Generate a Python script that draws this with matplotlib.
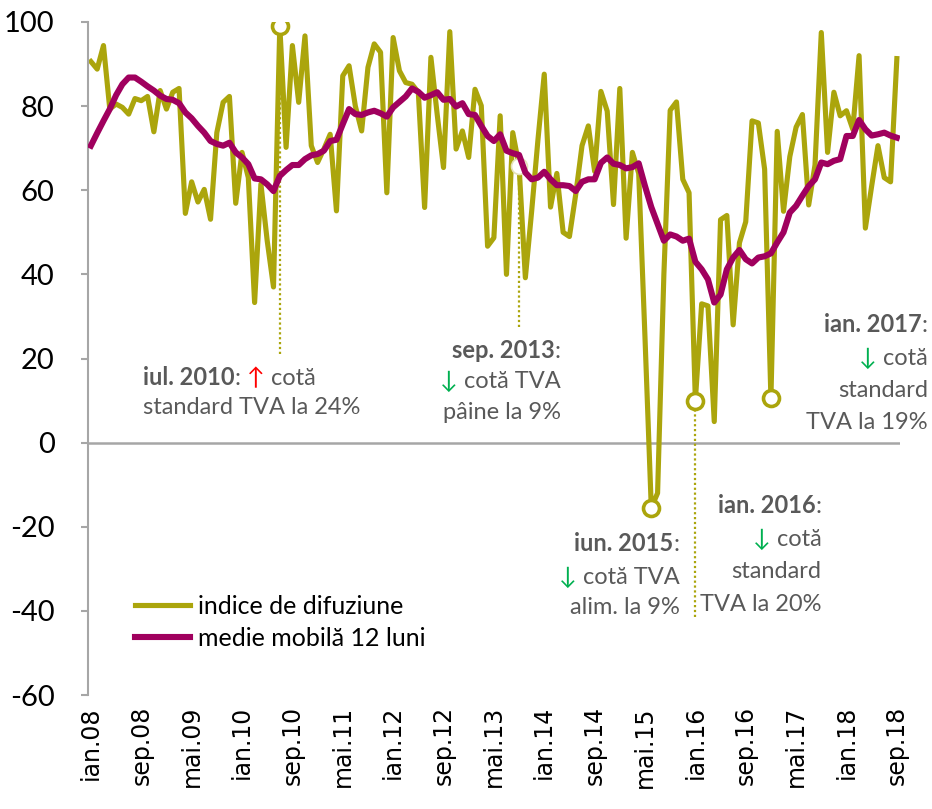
import matplotlib.pyplot as plt
import numpy as np

plt.rcParams['font.family'] = ['Lato', 'DejaVu Sans']
plt.rcParams['axes.unicode_minus'] = False

# indice de difuziune, lunar ian.08 - sep.18
difuziune = [90.6, 88.8, 94.4, 79.3, 80.5, 79.7, 78.1, 81.8, 81.3, 82.3,
             73.9, 83.7, 79.3, 83.3, 84.2, 54.5, 62.0, 57.2, 60.2, 53.1,
             73.7, 80.9, 82.3, 56.9, 69.0, 63.0, 33.3, 61.5, 48.0, 37.0,
             99.0, 70.2, 94.4, 80.9, 96.7, 70.6, 66.6, 69.8, 73.3, 55.1,
             87.2, 89.6, 80.0, 74.1, 89.2, 94.8, 92.8, 59.4, 96.3, 88.4,
             85.6, 85.2, 83.3, 55.9, 91.6, 78.0, 65.4, 97.7, 69.8, 74.1,
             67.8, 84.0, 80.1, 46.7, 48.7, 77.7, 40.0, 73.7, 65.8, 39.2,
             55.0, 72.0, 87.6, 56.0, 64.0, 50.0, 49.0, 59.0, 70.6, 75.3,
             64.5, 83.5, 78.8, 56.6, 84.2, 48.6, 69.0, 64.0, 25.0, -15.5,
             -12.0, 40.0, 79.0, 81.0, 62.6, 59.4, 10.0, 33.0, 32.5, 5.0,
             53.0, 54.0, 28.0, 47.5, 52.5, 76.5, 76.0, 65.0, 10.5, 74.0,
             55.0, 68.0, 75.0, 78.0, 56.5, 66.0, 97.5, 69.0, 83.3, 77.7,
             78.9, 74.5, 92.0, 51.0, 61.0, 70.6, 63.0, 62.0, 91.3]

# medie mobila 12 luni
medie = [70.6, 73.6, 76.5, 79.3, 82.6, 85.2, 86.8, 86.8, 85.8, 84.7,
         83.7, 82.5, 81.7, 81.5, 80.7, 78.5, 77.1, 75.3, 73.7, 71.7,
         71.0, 70.6, 71.3, 69.0, 67.8, 66.2, 62.8, 62.6, 61.4, 59.8,
         63.4, 64.8, 66.0, 66.0, 67.4, 68.3, 68.6, 69.4, 71.7, 72.0,
         75.7, 79.3, 78.1, 77.9, 78.5, 78.9, 78.3, 77.5, 79.7, 81.0,
         82.3, 84.2, 83.4, 82.0, 82.6, 83.3, 81.5, 81.7, 79.9, 80.7,
         78.1, 77.9, 75.3, 72.9, 71.7, 73.3, 69.4, 68.8, 68.4, 64.2,
         62.6, 63.0, 64.4, 62.6, 61.2, 61.2, 61.0, 59.8, 62.0, 62.6,
         62.6, 66.5, 67.8, 66.3, 66.0, 65.2, 65.5, 66.4, 61.0, 56.0,
         52.0, 48.0, 49.5, 49.0, 48.0, 48.5, 43.0, 41.2, 38.8, 33.3,
         35.2, 41.2, 44.0, 45.8, 43.6, 42.6, 44.0, 44.3, 45.0, 47.6,
         50.0, 54.7, 56.3, 58.7, 61.0, 62.6, 66.6, 66.2, 67.0, 67.4,
         72.9, 72.9, 76.7, 74.5, 73.0, 73.3, 73.7, 73.0, 72.5]

tick_labels = ['ian.08', 'sep.08', 'mai.09', 'ian.10', 'sep.10', 'mai.11',
               'ian.12', 'sep.12', 'mai.13', 'ian.14', 'sep.14', 'mai.15',
               'ian.16', 'sep.16', 'mai.17', 'ian.18', 'sep.18']

# luni marcate cu cerc: iul.10, iun.15, ian.16, ian.17
circle_idx = [30, 89, 96, 108]
sep13_idx = 68
# linii punctate: (luna, capat inferior)
dotted = [(30, 21.0), (68, 27.6), (96, -41.4)]

OLIVE = '#ABA50C'
PURPLE = '#A0005E'
GREY = '#595959'
AXIS = '#A6A6A6'
RED = '#FF0000'
GREEN = '#00B050'

x = np.arange(len(difuziune))
dif = np.array(difuziune)

fig = plt.figure(figsize=(9.32, 8.09), dpi=100)
ax = fig.add_axes([88 / 932, 1 - 695 / 809, 812 / 932, 673 / 809])

ax.axhline(0, color=AXIS, lw=1.8, zorder=1)
for i, low in dotted:
    ax.plot([x[i], x[i]], [low, dif[i]], linestyle=(0, (1, 1.2)),
            color=OLIVE, lw=1.6, zorder=1.5)

ax.plot(x, difuziune, color=OLIVE, lw=3.7, zorder=2, label='indice de difuziune')
ax.plot(x, medie, color=PURPLE, lw=4.4, zorder=3, label='medie mobilă 12 luni')

ax.plot(x[circle_idx], dif[circle_idx], 'o', mfc='white', mec=OLIVE,
        ms=11.5, mew=2.6, zorder=4)
ax.plot(x[sep13_idx], dif[sep13_idx], 'o', mfc='white', mec='#E4E2B8',
        ms=11.5, mew=1.2, zorder=2.5)

ax.set_ylim(-60, 100)
ax.set_yticks(np.arange(-60, 101, 20))
ax.set_xlim(-0.46, 128.5)
ax.set_xticks(x[::8])
ax.set_xticklabels(tick_labels, rotation=90, family='DejaVu Sans')

for s in ['top', 'right', 'bottom']:
    ax.spines[s].set_visible(False)
ax.spines['left'].set_color(AXIS)
ax.spines['left'].set_linewidth(1.5)
ax.tick_params(axis='y', length=5, width=1.5, color=AXIS, pad=19, labelsize=21)
ax.tick_params(axis='x', length=0, pad=8, labelsize=17)

ax.legend(loc='upper left', bbox_to_anchor=(0.058, 0.149), frameon=False,
          fontsize=18, handlelength=2.2, handletextpad=0.3, labelspacing=0.38,
          borderpad=0, borderaxespad=0)


def rich(xd, yd, parts, ha):
    kw = dict(fontsize=17, annotation_clip=False)
    if ha == 'left':
        txt, w, c = parts[0]
        t = ax.annotate(txt, xy=(xd, yd), xycoords='data', ha='left', va='center',
                        color=c, fontweight=w, **kw)
        for txt, w, c in parts[1:]:
            t = ax.annotate(txt, xy=(1, 0), xycoords=t, ha='left', va='bottom',
                            color=c, fontweight=w, **kw)
    else:
        txt, w, c = parts[-1]
        t = ax.annotate(txt, xy=(xd, yd), xycoords='data', ha='right', va='center',
                        color=c, fontweight=w, **kw)
        for txt, w, c in reversed(parts[:-1]):
            t = ax.annotate(txt, xy=(0, 0), xycoords=t, ha='right', va='bottom',
                            color=c, fontweight=w, **kw)


B, N = 'bold', 'normal'
notes = [
    (8.3, 'left', [15.5, 8.3], [
        [('iul. 2010', B, GREY), (':', N, GREY), (' ↑', N, RED), (' cotă', N, GREY)],
        [('standard TVA la 24%', N, GREY)]]),
    (74.6, 'right', [21.7, 14.5, 7.1], [
        [('sep. 2013', B, GREY), (':', N, GREY)],
        [('↓', N, GREEN), (' cotă TVA', N, GREY)],
        [('pâine la 9%', N, GREY)]]),
    (93.5, 'right', [-24.3, -32.1, -39.3], [
        [('iun. 2015', B, GREY), (':', N, GREY)],
        [('↓', N, GREEN), (' cotă TVA', N, GREY)],
        [('alim. la 9%', N, GREY)]]),
    (116.0, 'right', [-15.2, -23.1, -30.7, -38.6], [
        [('ian. 2016', B, GREY), (':', N, GREY)],
        [('↓', N, GREEN), (' cotă', N, GREY)],
        [('standard', N, GREY)],
        [('TVA la 20%', N, GREY)]]),
    (132.9, 'right', [27.9, 20.0, 12.4, 4.8], [
        [('ian. 2017', B, GREY), (':', N, GREY)],
        [('↓', N, GREEN), (' cotă', N, GREY)],
        [('standard', N, GREY)],
        [('TVA la 19%', N, GREY)]]),
]
for xd, ha, ys, lines in notes:
    for yd, parts in zip(ys, lines):
        rich(xd, yd, parts, ha)

fig.savefig('out.png', dpi=100)
